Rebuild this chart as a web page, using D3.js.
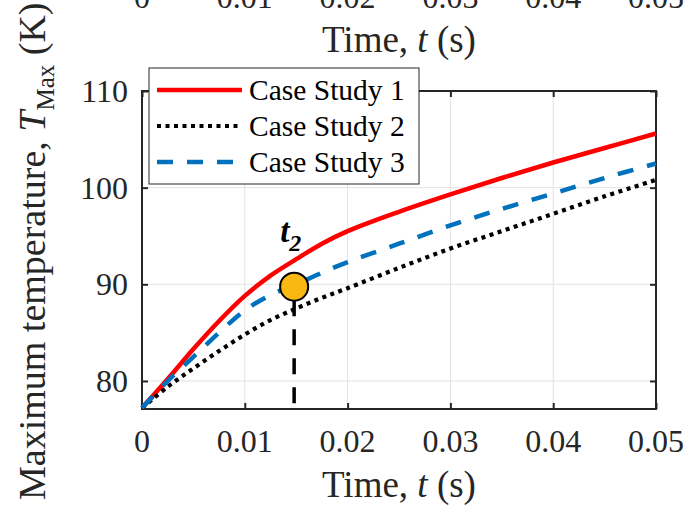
<!DOCTYPE html>
<html><head><meta charset="utf-8">
<script src="https://cdn.jsdelivr.net/npm/d3@7"></script>
<style>
html,body{margin:0;padding:0;background:#fff;}
svg, svg text, svg tspan{font-family:'Liberation Serif','Times New Roman',Tinos,'Nimbus Roman','DejaVu Serif',serif;}
</style></head>
<body>
<svg id="chart" width="687" height="505" font-family="Liberation Serif, Times New Roman, serif"></svg>
<script>
// ---- data ----
const times = [0, 0.0025, 0.005, 0.0075, 0.01, 0.0125, 0.015, 0.0175, 0.02, 0.025, 0.03, 0.035, 0.04, 0.045, 0.05];
const case1 = [77.2, 80.2, 83.3, 86.2, 88.8, 90.9, 92.6, 94.2, 95.5, 97.5, 99.3, 101.0, 102.6, 104.1, 105.6];
const case2 = [77.2, 79.4, 81.3, 83.1, 84.8, 86.3, 87.5, 88.6, 89.6, 91.7, 93.7, 95.5, 97.3, 99.1, 100.8];
const case3 = [77.2, 80.0, 82.5, 85.0, 87.3, 88.9, 90.0, 91.2, 92.3, 94.2, 96.1, 97.8, 99.4, 101.0, 102.5];
const seriesNames = ["Case Study 1", "Case Study 2", "Case Study 3"];
const xTicks = [0, 0.01, 0.02, 0.03, 0.04, 0.05];
const xTickLabels = ["0", "0.01", "0.02", "0.03", "0.04", "0.05"];
const yTicks = [80, 90, 100, 110];
const markerT = [0.0148];
const markerV = [89.75];
const dropBottom = [77.7];

(function () {
const FONT = "'Liberation Serif','Times New Roman',serif";
const svg = d3.select("#chart");
const L = 142, R = 656, T = 91, B = 409;
const x = d3.scaleLinear().domain([0, 0.05]).range([L, R]);
const y = d3.scaleLinear().domain([77.1, 110]).range([B, T]);
const axisColor = "#262626";
const gridColor = "#e3e3e3";

// remnant of the chart above (cropped)
const topG = svg.append("g").attr("fill", axisColor);
topG.selectAll("text.tt").data(xTicks).join("text")
  .attr("x", d => x(d)).attr("y", 8).attr("text-anchor", "middle")
  .attr("font-size", 32).text((d, i) => xTickLabels[i]);
const tl = topG.append("text").attr("x", (L + R) / 2).attr("y", 52)
  .attr("text-anchor", "middle").attr("font-size", 37);
tl.append("tspan").text("Time, ");
tl.append("tspan").attr("font-style", "italic").text("t");
tl.append("tspan").text(" (s)");

// grid
const grid = svg.append("g").attr("stroke", gridColor).attr("stroke-width", 1);
grid.selectAll("line.gx").data(xTicks.slice(1, -1)).join("line")
  .attr("x1", d => x(d)).attr("x2", d => x(d)).attr("y1", T).attr("y2", B);
grid.selectAll("line.gy").data(yTicks.filter(v => v < 110)).join("line")
  .attr("x1", L).attr("x2", R).attr("y1", d => y(d)).attr("y2", d => y(d));

// axes (ticks inside, mirrored)
const axG = svg.append("g");
axG.append("g").attr("transform", `translate(0,${B})`)
  .call(d3.axisBottom(x).tickValues(xTicks).tickSize(-6).tickFormat(""));
axG.append("g").attr("transform", `translate(0,${T})`)
  .call(d3.axisTop(x).tickValues(xTicks).tickSize(-6).tickFormat(""));
axG.append("g").attr("transform", `translate(${L},0)`)
  .call(d3.axisLeft(y).tickValues(yTicks).tickSize(-6).tickFormat(""));
axG.append("g").attr("transform", `translate(${R},0)`)
  .call(d3.axisRight(y).tickValues(yTicks).tickSize(-6).tickFormat(""));
axG.selectAll(".domain").remove();
axG.selectAll(".tick line").attr("stroke", axisColor).attr("stroke-width", 2);
axG.append("rect").attr("x", L).attr("y", T).attr("width", R - L).attr("height", B - T)
  .attr("fill", "none").attr("stroke", axisColor).attr("stroke-width", 2);

// tick labels
const lab = svg.append("g").attr("fill", axisColor).attr("font-size", 32);
lab.selectAll("text.xl").data(xTicks).join("text")
  .attr("x", d => x(d)).attr("y", B + 43).attr("text-anchor", "middle")
  .text((d, i) => xTickLabels[i]);
lab.selectAll("text.yl").data(yTicks).join("text")
  .attr("x", L - 14).attr("y", d => y(d) + 11).attr("text-anchor", "end")
  .text(d => d);

// axis labels
const xl = svg.append("text").attr("x", (L + R) / 2).attr("y", 497)
  .attr("text-anchor", "middle").attr("font-size", 37).attr("fill", axisColor);
xl.append("tspan").text("Time, ");
xl.append("tspan").attr("font-style", "italic").text("t");
xl.append("tspan").text(" (s)");

const yl = svg.append("text").attr("transform", "translate(45,500) rotate(-90)")
  .attr("x", 0).attr("y", 0).attr("text-anchor", "start")
  .attr("font-size", 38).attr("fill", axisColor);
yl.append("tspan").text("Maximum temperature, ");
yl.append("tspan").attr("font-style", "italic").text("T");
yl.append("tspan").attr("font-size", 25).attr("dy", 9).text("Max");
yl.append("tspan").attr("dy", -9).text(" (K)");

// series
const styles = [
  {color: "#ff0000", width: 4.5, dash: null},
  {color: "#000000", width: 4.2, dash: "4,4.5"},
  {color: "#0072bd", width: 4.5, dash: "16,14"}
];
const allSeries = [case1, case2, case3];
const line = d3.line().x(d => x(d[0])).y(d => y(d[1])).curve(d3.curveCatmullRom.alpha(0.5));
[0, 1, 2].forEach(i => {
  const pts = times.map((t, k) => [t, allSeries[i][k]]);
  svg.append("path").datum(pts).attr("d", line)
    .attr("fill", "none").attr("stroke", styles[i].color)
    .attr("stroke-width", styles[i].width)
    .attr("stroke-dasharray", styles[i].dash);
});

// drop line and marker
svg.append("line")
  .attr("x1", x(markerT[0])).attr("x2", x(markerT[0]))
  .attr("y1", y(dropBottom[0])).attr("y2", y(markerV[0]))
  .attr("stroke", "#000").attr("stroke-width", 3.5)
  .attr("stroke-dasharray", "16,13");
svg.append("circle").attr("cx", x(markerT[0])).attr("cy", y(markerV[0])).attr("r", 14)
  .attr("fill", "#f9b812").attr("stroke", "#000").attr("stroke-width", 2);

const t2 = svg.append("text").attr("x", x(markerT[0]) - 14).attr("y", y(markerV[0]) - 45)
  .attr("font-size", 33).attr("font-weight", "bold").attr("font-style", "italic").attr("fill", "#000");
t2.append("tspan").text("t");
t2.append("tspan").attr("font-size", 24).attr("dy", 9).text("2");

// legend
const lg = svg.append("g");
lg.append("rect").attr("x", 149).attr("y", 68).attr("width", 270).attr("height", 116)
  .attr("fill", "#fff").attr("stroke", axisColor).attr("stroke-width", 1);
seriesNames.forEach((name, i) => {
  const cy = 90 + i * 36;
  lg.append("line").attr("x1", 157).attr("x2", 242).attr("y1", cy).attr("y2", cy)
    .attr("stroke", styles[i].color).attr("stroke-width", styles[i].width)
    .attr("stroke-dasharray", styles[i].dash);
  lg.append("text").attr("x", 249).attr("y", cy + 10).attr("font-size", 29.5)
    .attr("fill", "#000").text(name);
});

svg.selectAll("text").style("font-family", FONT);
})();
</script>
</body></html>
